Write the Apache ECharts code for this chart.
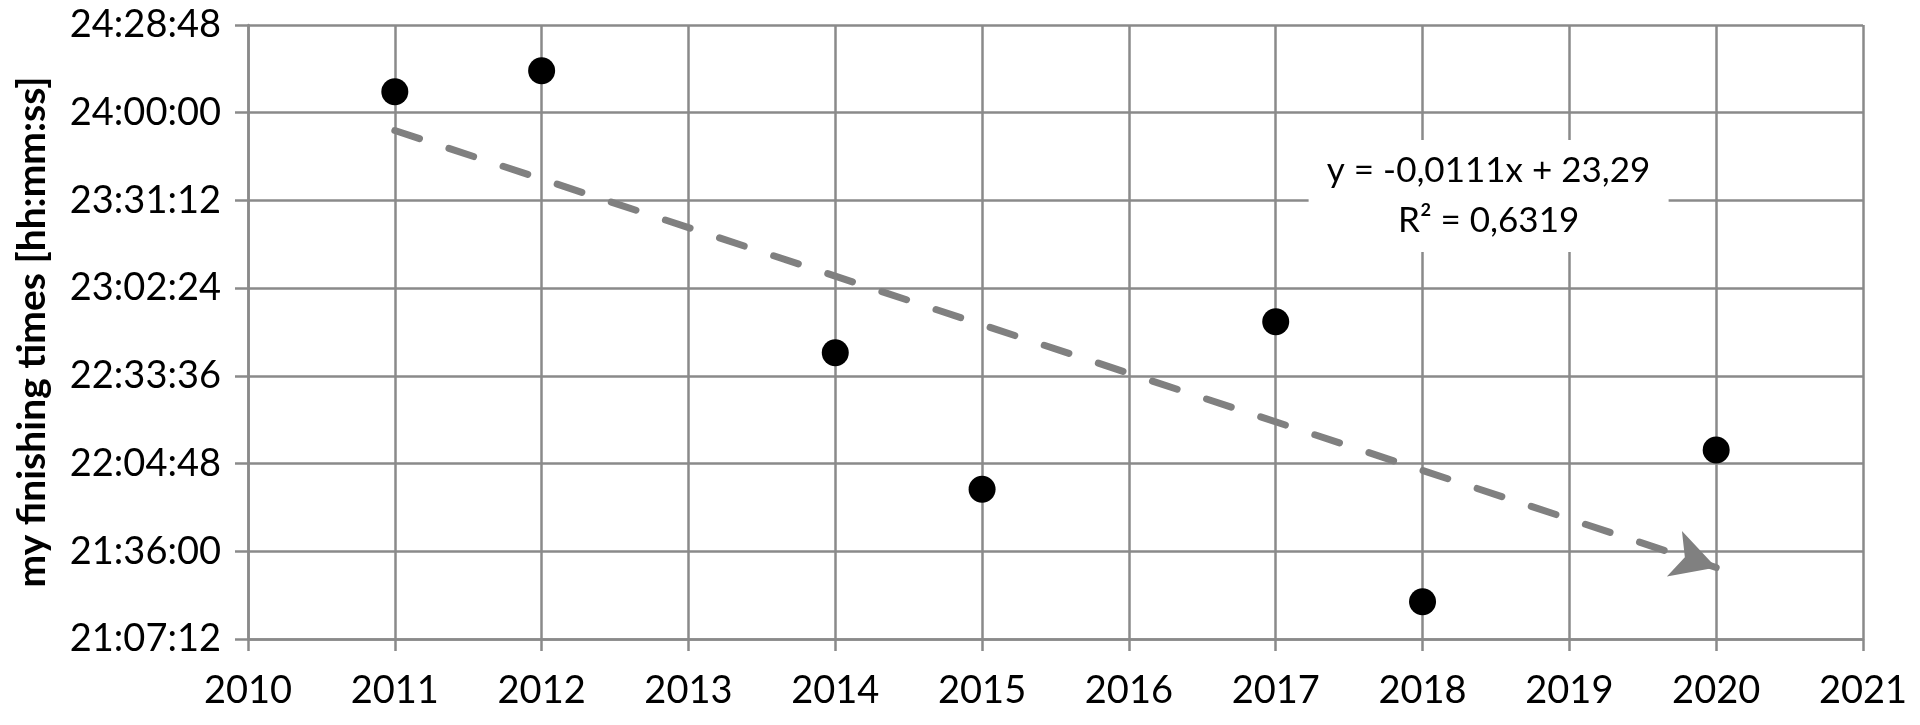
<!DOCTYPE html>
<html>
<head>
<meta charset="utf-8">
<script src="https://cdn.jsdelivr.net/npm/echarts@6/dist/echarts.min.js"></script>
<style>
html,body{margin:0;padding:0;background:#fff;}
#chart{width:1920px;height:725px;}
</style>
</head>
<body>
<div id="chart"></div>
<script>
// ---- data ----
var years = [2011, 2012, 2014, 2015, 2017, 2018, 2020];
var finishTimes = ["24:06:54", "24:13:48", "22:41:12", "21:56:21", "22:51:23", "21:19:27", "22:09:15"];
var trendYears = [2011, 2020];
var trendTimes = ["23:54:10", "21:30:40"];
var yTickLabels = ["21:07:12", "21:36:00", "22:04:48", "22:33:36", "23:02:24", "23:31:12", "24:00:00", "24:28:48"];
var xTickLabels = [2010, 2011, 2012, 2013, 2014, 2015, 2016, 2017, 2018, 2019, 2020, 2021];
var equationLines = ["y = -0,0111x + 23,29", "R² = 0,6319"];
var equationAnchor = [2018.45, "23:32:40"];

function toSec(s) {
  var p = s.split(":").map(Number);
  return p[0] * 3600 + p[1] * 60 + p[2];
}
function pad(n) { return (n < 10 ? "0" : "") + n; }
function toHMS(v) {
  v = Math.round(v);
  var h = Math.floor(v / 3600), m = Math.floor((v % 3600) / 60), s = v % 60;
  return h + ":" + pad(m) + ":" + pad(s);
}

var yMin = toSec(yTickLabels[0]);
var yMax = toSec(yTickLabels[yTickLabels.length - 1]);
var yStep = toSec(yTickLabels[1]) - yMin;

var points = years.map(function (y, i) { return [y, toSec(finishTimes[i])]; });

var gridColor = "#8a8a8a";
var fontFam = "Lato, 'Open Sans', sans-serif";

var chart = echarts.init(document.getElementById("chart"), null, { renderer: "canvas" });
chart.setOption({
  animation: false,
  backgroundColor: "#ffffff",
  grid: { left: 248, right: 57, top: 25, bottom: 86, containLabel: false },
  xAxis: {
    type: "value",
    min: xTickLabels[0],
    max: xTickLabels[xTickLabels.length - 1],
    interval: 1,
    axisLine: { show: true, lineStyle: { color: gridColor, width: 2.5 } },
    axisTick: { show: true, inside: false, length: 12, lineStyle: { color: gridColor, width: 2.5 } },
    splitLine: { show: true, lineStyle: { color: gridColor, width: 2.5 } },
    axisLabel: { color: "#000", fontFamily: fontFam, fontSize: 38, margin: 33,
      formatter: function (v) { return String(v); } }
  },
  yAxis: {
    type: "value",
    min: yMin,
    max: yMax,
    interval: yStep,
    name: "my finishing times [hh:mm:ss]",
    nameLocation: "middle",
    nameRotate: 90,
    nameGap: 196,
    nameTextStyle: { color: "#000", fontFamily: fontFam, fontSize: 39, fontWeight: "bold" },
    axisLine: { show: true, lineStyle: { color: gridColor, width: 2.5 } },
    axisTick: { show: true, inside: false, length: 13, lineStyle: { color: gridColor, width: 2.5 } },
    splitLine: { show: true, lineStyle: { color: gridColor, width: 2.5 } },
    axisLabel: { color: "#000", fontFamily: fontFam, fontSize: 38, margin: 27,
      formatter: function (v) { return toHMS(v); } }
  },
  series: [{
    type: "scatter",
    data: points,
    symbol: "circle",
    symbolSize: 27,
    itemStyle: { color: "#000", opacity: 1 },
    emphasis: { disabled: true },
    z: 5,
    markLine: {
      silent: true,
      symbol: ["none", "arrow"],
      symbolSize: [36, 44],
      label: { show: false },
      lineStyle: { color: "#808080", width: 7, type: [26, 31], cap: "round", opacity: 1 },
      emphasis: { disabled: true },
      data: [[
        { coord: [trendYears[0], toSec(trendTimes[0])] },
        { coord: [trendYears[1], toSec(trendTimes[1])] }
      ]]
    },
    markPoint: {
      silent: true,
      symbol: "rect",
      symbolSize: [360, 112],
      itemStyle: { color: "#ffffff" },
      label: {
        show: true,
        position: "inside",
        color: "#000",
        fontFamily: fontFam,
        fontSize: 35,
        lineHeight: 50,
        align: "center",
        formatter: equationLines.join("\n")
      },
      data: [{ coord: [equationAnchor[0], toSec(equationAnchor[1])] }]
    }
  }]
});
</script>
</body>
</html>
